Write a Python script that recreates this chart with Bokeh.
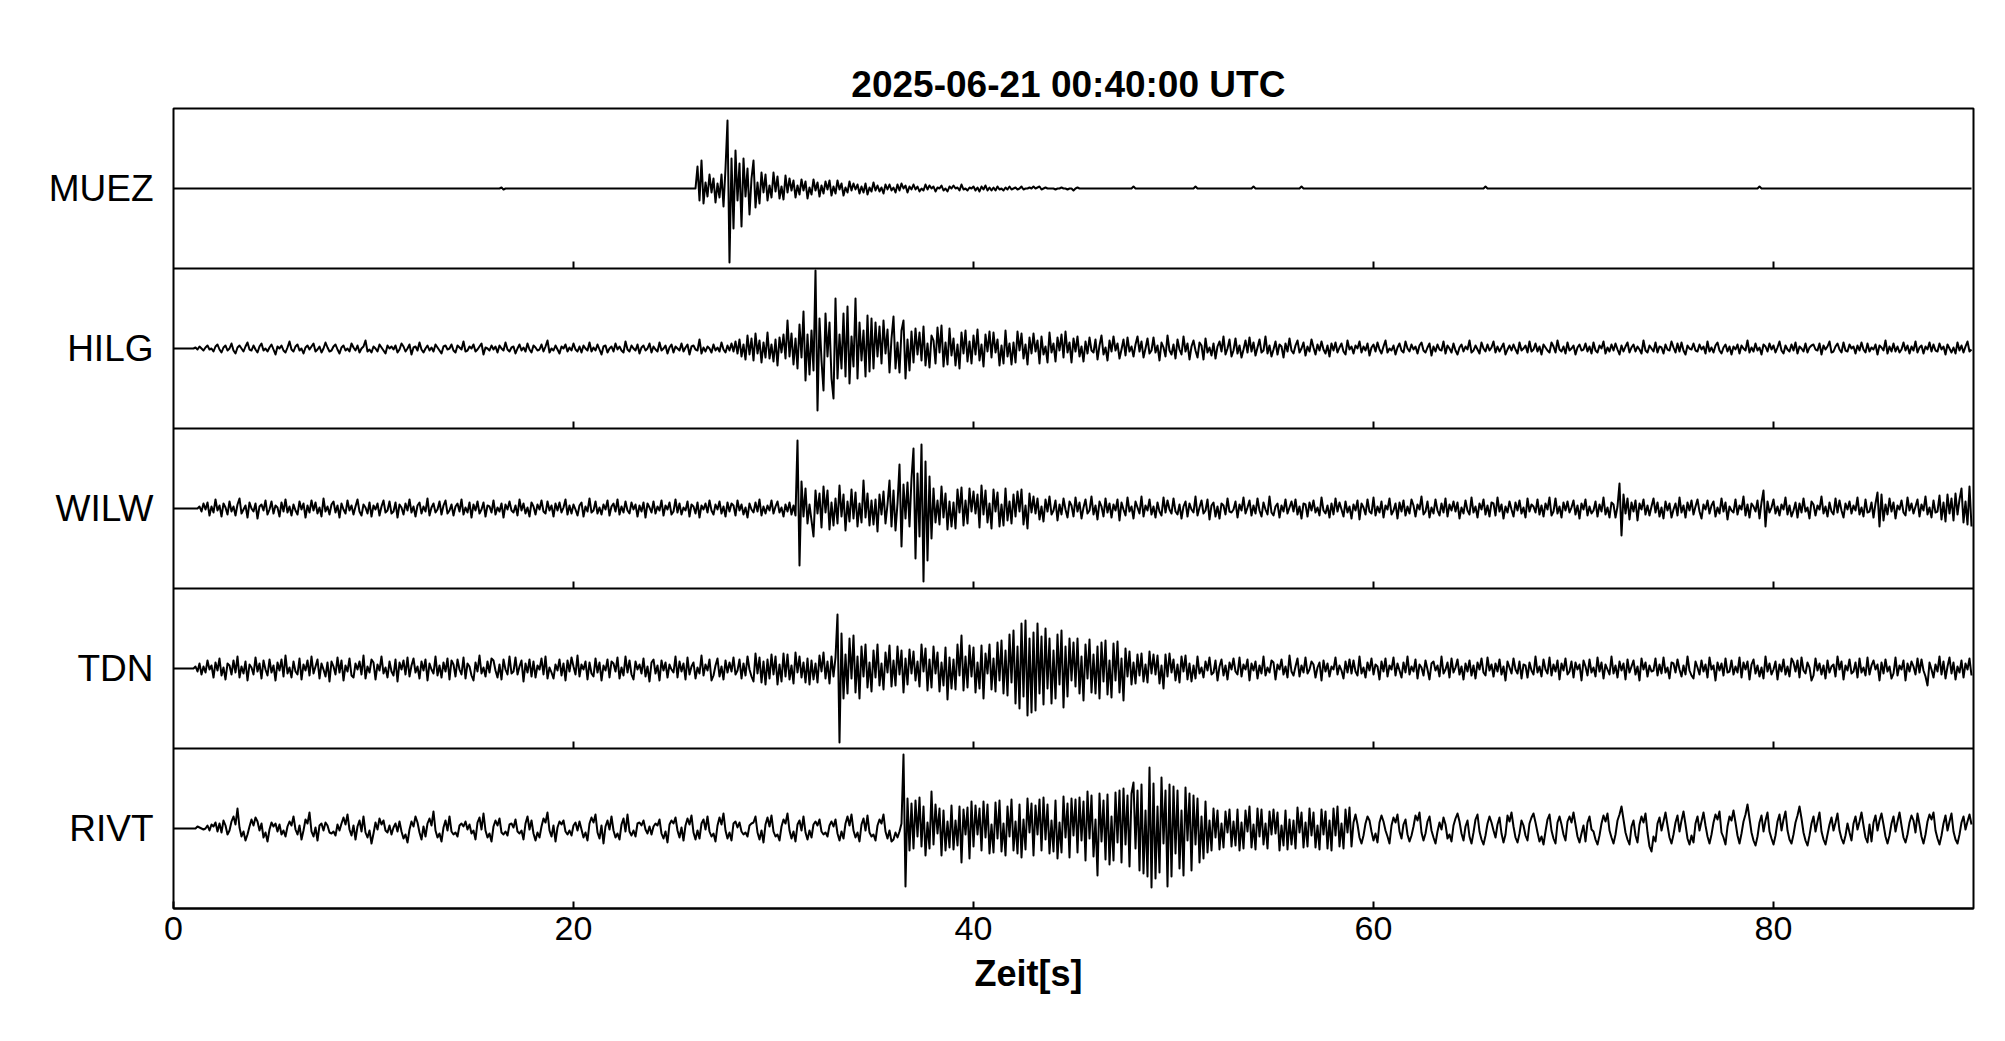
import numpy as np
from bokeh.plotting import figure
from bokeh.models import Range1d, FixedTicker, Span, Title
from bokeh.embed import file_html
from bokeh.resources import INLINE

TITLE = "2025-06-21  00:40:00 UTC"
X_LABEL = "Zeit[s]"
STATIONS = ["MUEZ", "HILG", "WILW", "TDN", "RIVT"]
X_TICKS = [0, 20, 40, 60, 80]
X_MAX = 90
SAMPLE_RATE = 10          # samples per second
COUNTS_PER_PANEL = 160    # amplitude counts spanning one trace panel

Z10 = [0, 0, 0, 0, 0, 0, 0, 0, 0, 0]

MUEZ = (
    Z10 + Z10 + Z10 + Z10 + Z10 + Z10 + Z10 + Z10 + Z10 + Z10 + Z10 + Z10 + Z10 + Z10 + Z10 + Z10 +
    [0, 0, 0, 0, 1, -1, 0, 0, 0, 0] +
    Z10 + Z10 + Z10 + Z10 + Z10 + Z10 + Z10 + Z10 + Z10 +
    [0, 0, 22, -12, 28, -15, 6, -8, 14, -4,
     10, -14, 5, -9, 14, -18, 20, 68, -74, 30,
     -40, 38, -12, 25, -38, 30, -8, 20, -26, 10,
     28, -19, 6, -15, 16, -4, 14, -12, 3, -9,
     16, -3, 12, -10, 2, -11, 13, -4, 10, -2,
     8, -9, 3, -6, 9, -2, 7, -10, 1, -6,
     9, -2, 6, -8, 3, -5, 7, -1, 8, -7,
     2, -5, 8, -1, 5, -7, 1, -4, 7, -2,
     5, -1, 4, -5, 2, -4, 5, -6, 1, -3,
     6, -2, 3, -3, 1, -5, 4, -1, 4, -2,
     1, -4, 4, -2, 5, 0, 3, -4, 2, -1,
     4, -1, 2, -3, 0, -2, 4, -1, 3, 0,
     2, -3, 1, 0, 3, -2, 0, -3, 2, 0,
     3, 0, 1, -2, 4, -1, 0, -2, 1, 0,
     2, -2, 1, -3, 2, -1, 3, -2, 1, -2,
     1, -2, 2, -1, 0, -2, 1, -1, 2, -1,
     0, 1, -1, 0, 2, -1, 0, 0, 1, 0,
     2, 0, 1, 2, -1, 0, 1, 0, 0, 0,
     0, -1, 0, 0, 1, 0, 0, -1, 0, 0,
     -2, 0, 1, 0, 0, 0, 0, 0, 0, 0] +
    Z10 + Z10 +
    [2, 0, 0, 0, 0, 0, 0, 0, 0, 0] +
    Z10 + Z10 +
    [0, 2, 0, 0, 0, 0, 0, 0, 0, 0] +
    Z10 + Z10 +
    [2, 0, 0, 0, 0, 0, 0, 0, 0, 0] +
    Z10 +
    [0, 0, 0, 0, 2, 0, 0, 0, 0, 0] +
    Z10 + Z10 + Z10 + Z10 + Z10 + Z10 + Z10 + Z10 +
    [0, 0, 0, 0, 0, 0, 2, 0, 0, 0] +
    Z10 + Z10 + Z10 + Z10 + Z10 + Z10 + Z10 + Z10 + Z10 + Z10 + Z10 + Z10 + Z10 +
    [0, 0, 0, 2, 0, 0, 0, 0, 0, 0] +
    Z10 + Z10 + Z10 + Z10 + Z10 + Z10 + Z10 + Z10 + Z10 + Z10
)

HILG = [
    0, 0, 0, 0, 0, 0, 0, 0, 0, 0,
    0, 1, -1, 2, 0, -2, 1, 3, -1, 0,
    -3, 2, 4, -1, -4, 1, 3, -2, 0, 5,
    -2, -5, 1, 3, 0, -3, 2, 6, -1, -2,
    3, -1, -4, 2, 5, -2, 0, -3, 1, 4,
    -1, -6, 2, 0, 3, -2, -4, 1, 7, -1,
    -3, 2, 4, -2, 0, -5, 1, 3, -1, 2,
    5, -3, -1, 2, -4, 0, 6, 1, -3, -2,
    2, 4, -1, -5, 1, 3, -2, 0, -3, 5,
    1, -2, 3, -4, 0, 2, 8, -3, -1, -4,
    2, 0, -3, 4, 1, -2, -5, 3, 0, 2,
    -1, 3, -4, -1, 5, 2, -3, 0, 4, -6,
    1, 2, -2, 6, -1, -4, 0, 3, -2, 1,
    -3, 4, 1, -2, -5, 2, 3, -1, 0, 4,
    -2, -4, 3, 1, -1, 7, -3, -2, 2, 0,
    4, -3, -1, 2, 5, -6, 1, 0, -2, 3,
    -1, 2, -4, 3, 0, -2, 6, -1, -3, 1,
    2, -5, 0, 4, -2, 1, -3, 5, -1, -4,
    3, 1, -2, -1, 4, -3, 2, 8, -4, 0,
    -2, 3, -1, -5, 2, 0, 4, -3, 1, -2,
    5, -1, -3, 2, -4, 3, 0, -2, 6, -3,
    1, -2, 4, -1, -6, 2, 3, -4, 0, 2,
    -3, 5, -1, 2, -2, -4, 7, -1, -3, 3,
    0, -2, 4, -5, 1, 3, -2, 0, 5, -4,
    2, -1, -3, 6, -2, 0, 3, -5, 1, 4,
    -4, 2, 0, -2, 5, -3, 1, 4, -6, 2,
    3, -1, -2, 9, -5, 1, -3, 2, 0, -4,
    4, -2, 1, -3, 6, -1, -4, 3, -2, 5,
    -3, 7, -5, 9, -8, 4, -11, 13, -6, 10,
    -12, 15, -5, 8, -14, 6, -9, 16, -10, 4,
    -13, 9, -17, 11, -4, 14, -10, 28, -8, 15,
    -16, 10, -20, 24, -9, 37, -32, 14, -26, 18,
    -22, 78, -62, 30, -12, -42, 35, -8, 26, -30,
    -50, 50, -30, 14, -20, 35, -28, 42, -35, 12,
    -18, 50, -30, 26, -12, 18, -28, 33, -23, 30,
    -20, 26, -8, 22, -15, 28, -5, 19, -24, 10,
    32, -20, 6, -24, 18, 28, -30, 9, -22, 17,
    -14, 20, -6, 16, -12, 22, -17, 5, -19, 13,
    8, -15, 21, -4, 23, -18, 6, -16, 20, -7,
    10, -17, 4, -20, 16, -5, 18, -13, 7, -15,
    13, -6, 19, -12, 4, -18, 14, -3, 17, -9,
    16, -4, 9, -17, 3, -15, 18, -8, 5, -16,
    6, -14, 17, -2, 15, -10, 4, -16, 11, -5,
    15, -3, 8, -15, 12, -6, 2, -14, 16, -4,
    5, -13, 11, -2, 14, -9, 17, -4, 6, -14,
    10, -3, 12, -8, 2, -13, 7, -5, 11, -2,
    -4, 9, -11, 3, 13, -6, 1, -12, 8, -3,
    12, -2, 5, -10, -1, 9, -7, 11, -3, 2,
    -8, 4, 12, -3, 7, -9, 0, 10, -5, -2,
    11, -4, 3, -12, 6, 1, -8, 13, -2, -6,
    4, -10, 9, -1, -6, 12, -3, 5, -11, 2,
    8, -2, -9, 6, 3, -11, 10, -4, 1, -7,
    5, -10, 2, 7, -3, 12, -6, 0, 9, -8,
    -2, 10, -5, 3, -9, -1, 8, -4, 11, -3,
    6, -7, 1, 9, -4, -2, 12, -5, 3, -8,
    -1, 7, -6, 4, 2, -9, 5, -3, 10, -2,
    -5, 3, 8, -4, 0, 6, -7, 2, -3, 9,
    1, -6, 4, -2, 7, -1, -5, 3, -8, 5,
    -2, 6, -4, 1, 5, -3, -6, 8, -1, 2,
    -5, 3, 0, 7, -4, 2, -2, 5, -7, 1,
    4, -3, 6, -1, -5, 2, 8, -4, 0, -2,
    3, -6, 1, 5, -2, -4, 7, 0, -3, 4,
    -1, 2, -5, 3, 6, -2, -4, 1, 5, -7,
    2, -3, 4, -1, -2, 7, -5, 3, 0, -4,
    5, -2, -6, 1, 4, -3, 2, -1, 8, -4,
    -2, 3, -1, -5, 6, 0, -3, 4, -2, 1,
    7, -4, 2, -3, 1, 5, -6, -1, 3, -2,
    4, -1, -5, 6, -2, 0, 3, -4, 7, -3,
    -1, 5, -3, 2, -6, 4, 1, -2, -4, 6,
    2, -4, 8, -1, -3, 2, -5, 6, -2, 0,
    3, -6, 1, 4, -2, -1, 5, -3, 2, -5,
    6, -2, -4, 3, 0, 7, -5, 1, -3, 4,
    -2, 5, -1, -6, 3, -3, 2, 6, -4, 1,
    4, -3, 2, -1, -5, 8, -2, -4, 3, 0,
    -3, 6, -4, 2, 1, -5, 4, -1, -2, 7,
    1, -4, 5, -3, 6, -2, -6, 3, 0, -1,
    5, -2, -3, 4, -1, 2, -5, 7, -3, 1,
    -4, 3, 6, -2, -5, 1, 4, -3, 2, -6,
    2, -1, 4, -5, 3, 0, -2, 8, -4, 1,
    -3, 5, -2, 1, -6, 4, 2, -3, 5, -1,
    3, -4, 1, 7, -2, -5, 3, -1, -3, 4,
    -2, 6, -5, 2, 0, -3, 5, -4, 1, 3,
    4, -1, -2, 5, -6, 3, -1, 2, 7, -4,
    -3, 2, 5, -1, -4, 6, -2, -3, 4, 0,
    2, -5, 3, -2, 6, -1, -4, 5, -3, 1,
    -1, 4, -6, 3, 1, -2, 8, -5, 2, -3,
    5, -3, 2, -4, -1, 6, -2, 3, -5, 2,
    -2, 7, -4, 1, 3, -5, 2, -1, 6, -3,
    4, -2, -3, 5, -1, 2, -6, 4, 0, -4,
    1, -5, 6, -2, 3, -4, 2, 7, -3, -1,
]

WILW = [
    0, 0, 0, 0, 0, 0, 0, 0, 0, 0,
    0, 0, 0, 2, -3, 5, -1, 6, -7, 2,
    -4, 9, -2, 3, -8, 5, 1, -6, 7, -3,
    2, -7, 4, 10, -5, -1, 3, -9, 6, 0,
    -3, 5, -10, 2, 4, -2, 8, -6, -1, 7,
    -5, 3, 1, -8, 6, -3, 9, -4, 2, -7,
    4, -2, -6, 7, -1, 5, -9, 3, -4, 8,
    -2, 6, -5, 1, -8, 10, -3, 2, -6, 4,
    7, -4, 3, -9, 5, -1, -5, 8, -2, 3,
    -6, 2, 9, -3, -7, 4, 1, -5, 6, -8,
    3, -1, 5, -7, 2, 8, -4, -2, 7, -5,
    -3, 6, -9, 4, 1, -6, 5, -2, 9, -4,
    2, -8, 3, 6, -5, 2, -3, 10, -7, 1,
    5, -4, -1, 7, -6, 3, 8, -5, -2, 4,
    -7, 2, 5, -3, 9, -6, 1, -4, 6, -9,
    4, -2, 7, -5, -1, 6, -8, 3, 2, -4,
    8, -6, 1, -3, 5, -9, 4, -1, 7, -2,
    -4, 3, -7, 9, -2, 5, -5, 1, -8, 6,
    2, -6, 4, -1, 8, -3, -5, 7, -2, 3,
    -8, 5, -2, 6, -4, 1, 9, -6, 3, -5,
    4, -1, -7, 3, 6, -8, 2, -3, 10, -4,
    -2, 7, -5, 1, -6, 4, -1, 8, -7, 2,
    5, -3, 9, -6, 2, -4, 7, -2, -5, 6,
    -1, 4, -8, 3, -3, 6, -9, 5, 1, -4,
    7, -5, 2, -2, 8, -7, 3, -1, 6, -6,
    -3, 9, -4, 5, -6, 1, -2, 7, -8, 4,
    2, -5, 6, -9, 3, -1, 5, -4, 8, -2,
    -6, 4, -1, 7, -5, 2, -8, 6, -3, 5,
    3, -7, 8, -2, 4, -6, 1, -9, 5, -1,
    -4, 6, -3, 9, -7, 2, -5, 3, -2, 8,
    -5, 2, 7, -4, 1, -8, 4, -3, 6, -6,
    3, -7, 68, -57, 27, -8, 20, -15, 4, -12,
    -28, 18, -5, 15, -19, 22, -4, 18, -21, 6,
    -17, 10, -15, 23, -8, 14, -22, 7, -13, 19,
    -10, 16, -18, 5, -14, 28, -9, 15, -17, 8,
    -16, 9, -23, 14, -6, 17, -15, 4, 28, -18,
    18, -22, 5, 44, -38, 24, -10, 26, -18, 30,
    60, -50, 35, -28, 64, -73, 47, -52, 32, -30,
    20, -14, 8, -16, 22, -9, 15, -21, 7, -18,
    6, -20, 19, -4, 21, -17, 8, -15, 20, -3,
    17, -5, 14, -19, 23, -6, 18, -14, 5, -20,
    19, -3, 16, -18, 4, -17, 20, -12, 7, -15,
    14, -8, 17, -3, 19, -16, 3, -20, 15, -4,
    12, -5, 10, -11, 2, -13, 9, -3, 12, -6,
    -2, 8, -12, 4, -6, 10, -1, -9, 7, 3,
    -8, 11, -3, 6, -10, 1, 9, -5, -2, 12,
    -6, 3, -11, 7, 2, -8, 10, -4, 5, -9,
    4, -2, 9, -12, 6, -1, -7, 11, -3, 2,
    -10, 7, 1, -5, 12, -8, 3, -2, 9, -6,
    2, -9, 6, -3, -7, 11, -4, 8, -1, -5,
    10, -3, -6, 4, -10, 2, 7, -8, 5, -1,
    -4, 12, -7, 1, 8, -5, -2, 9, -11, 3,
    6, -8, 2, -10, 5, 3, -6, 10, -3, -4,
    -1, 7, -9, 4, -2, 11, -5, 1, 8, -7,
    3, -5, 10, -2, -8, 6, -1, -6, 12, -4,
    -7, 2, 5, -9, 3, -3, 9, -5, 1, 7,
    -3, 9, -6, 2, -10, 5, 4, -8, 6, -2,
    8, -4, 1, -7, 11, -2, -5, 3, -9, 5,
    -6, 10, -3, 6, -1, -8, 7, -4, 2, -10,
    4, -2, 8, -11, 5, 1, -6, 9, -3, -5,
    11, -7, 2, -4, 7, -9, 3, -1, 10, -6,
    -2, 5, -10, 6, -3, 8, -7, 2, -5, 9,
    3, -8, 4, -1, 12, -6, -3, 7, -9, 1,
    -5, 9, -2, -7, 5, -4, 10, -8, 4, -2,
    7, -3, 6, -10, 1, -5, 8, -2, -6, 11,
    -4, 2, -9, 5, -1, 9, -6, 3, -8, 6,
    5, -7, 11, -3, 4, -10, 2, -4, 7, -1,
    -8, 6, -2, 8, -5, 1, -9, 10, -3, 4,
    2, -4, 9, -6, 3, -8, 5, -1, 11, -7,
    -3, 10, -5, 2, -9, 6, -2, 7, -4, 1,
    8, -6, 3, -10, 5, -1, 9, -7, 2, -5,
    -2, 7, -8, 4, -3, 11, -6, 1, -9, 6,
    4, -9, 2, 25, -27, 14, -5, 10, -11, 6,
    -3, 8, -12, 5, -1, 9, -6, 3, -7, 2,
    10, -4, 6, -8, 1, -10, 7, -2, 5, -9,
    -1, 5, -7, 11, -4, 3, -9, 6, -2, 8,
    -6, 2, 9, -3, -10, 4, -1, 8, -5, 3,
    7, -8, 1, -5, 10, -3, 6, -11, 2, -2,
    -4, 9, -6, 3, -1, 12, -7, 4, -9, 5,
    2, -3, 8, -10, 6, 18, -18, 7, -4, 1,
    9, -5, 2, -7, 4, -1, 11, -6, 3, -8,
    -2, 6, -9, 5, -4, 10, -3, 1, -10, 7,
    4, -7, 3, -1, 12, -5, 2, -8, 6, -3,
    -6, 10, -4, 8, -2, -9, 5, -1, 7, -5,
    3, -2, 11, -6, 1, -8, 9, -4, -3, 6,
    -9, 5, 16, -18, 14, -12, 4, -6, 10, -3,
    6, -10, 3, -1, 8, -4, -7, 11, -2, 5,
    -5, 2, 9, -8, 4, -2, 12, -6, 1, -9,
    8, -4, -3, 13, -11, 6, -13, 14, -5, 10,
    -12, 15, -6, 9, 20, -14, 7, -16, 22, -18,
]

TDN = [
    0, 0, 0, 0, 0, 0, 0, 0, 0, 0,
    0, 2, -3, 5, -6, 2, -4, 8, -1, 3,
    -9, 6, -2, 10, -7, 1, -11, 5, 3, -6,
    8, -4, 12, -9, 2, -5, 7, -12, 4, 1,
    -6, 11, -3, 5, -10, 8, -1, -7, 9, -4,
    3, -12, 6, -2, 9, -8, 13, -5, 1, -9,
    7, -3, -6, 10, -11, 4, -2, 8, -7, 12,
    -5, 2, 9, -10, 5, -1, -8, 6, -13, 7,
    2, -6, 11, -4, 8, -12, 3, -3, 10, -7,
    -9, 5, -1, 7, -6, 13, -10, 2, -4, 9,
    6, -11, 4, -2, 12, -5, 1, -9, 7, -3,
    -7, 9, -13, 6, -1, 8, -6, 11, -8, 3,
    10, -4, 2, -10, 7, -2, 9, -12, 5, -1,
    -5, 12, -7, 3, -9, 6, -3, 10, -11, 8,
    4, -8, 9, -1, -6, 11, -10, 5, 2, -7,
    -12, 6, -3, 13, -5, 1, -8, 7, -4, 10,
    8, -2, -9, 4, -11, 9, -1, -6, 12, -5,
    -3, 11, -6, 2, 8, -13, 5, -4, 9, -8,
    7, -9, 3, -1, 10, -6, 12, -10, 1, -4,
    -10, 4, -2, 9, -7, 5, -12, 8, -3, 11,
    2, -6, 13, -8, 4, -1, 7, -11, 6, -5,
    -8, 10, -4, 6, -12, 3, -2, 9, -9, 7,
    5, -3, 11, -10, 1, -7, 12, -4, 8, -6,
    -11, 7, -1, 4, -5, 10, -8, 2, -13, 6,
    9, -5, 3, -12, 8, -2, 6, -9, 4, -1,
    -4, 12, -9, 7, -3, 5, -11, 11, -6, 2,
    6, -10, 1, -5, 13, -7, 4, -2, 9, -12,
    -7, 3, 10, -8, 2, -11, 8, -4, 6, -3,
    11, -6, -2, 9, -10, 5, -7, 12, -1, -8,
    -13, 15, -5, 11, -14, 7, -16, 9, -10, 14,
    -6, 12, -16, 4, -13, 15, -8, 14, -11, 3,
    -15, 16, -4, 12, -9, 6, -14, 10, -16, 8,
    -11, 5, -14, 13, -3, 16, -10, 7, -15, 12,
    -8, 11, 54, -74, 35, -30, 14, -25, 30, -10,
    33, -24, 12, -30, 22, -8, 24, -19, 6, -23,
    18, -9, 24, -17, 5, -21, 16, -4, 23, -18,
    8, -17, 22, -6, 18, -24, 10, -16, 19, -5,
    17, -12, 7, -18, 24, -3, 20, -22, 9, -19,
    22, -5, 16, -23, 6, -17, 21, -31, 11, -20,
    9, -21, 24, -7, 33, -22, 12, -19, 23, -8,
    21, -24, 6, -20, 23, -30, 15, -5, 24, -21,
    10, -23, 26, -12, 28, -25, 18, -27, 34, -14,
    38, -35, 22, -40, 45, -28, 48, -47, 30, -44,
    36, -42, 45, -25, 32, -36, 40, -20, 30, -35,
    18, -30, 34, -16, 38, -39, 22, -28, 30, -12,
    26, -18, 30, -25, 12, -32, 24, -10, 29, -24,
    14, -25, 22, -30, 26, -13, 28, -26, 8, -29,
    25, -12, 27, -24, 10, -32, 20, -8, 17, -16,
    6, -15, 14, -7, 15, -13, 4, -14, 17, -5,
    14, -6, 13, -15, 3, -20, 14, -8, 15, -4,
    9, -12, 4, -14, 12, -3, 13, -11, 5, -13,
    3, -10, 12, -5, 1, -9, 7, -2, 11, -6,
    -4, 8, -12, 2, 9, -7, 3, -11, 6, -1,
    10, -3, -6, 11, -8, 4, -1, 9, -12, 5,
    -2, 7, -10, 3, -5, 12, -7, 1, -4, 8,
    6, -11, 4, -1, 9, -6, 2, -9, 13, -3,
    -7, 2, 10, -8, 3, -4, 11, -5, -1, 7,
    4, -9, 1, 6, -12, 8, -3, 5, -8, 2,
    -1, 11, -6, 3, -2, -10, 7, -4, 9, -5,
    8, -3, -7, 12, -5, 1, -9, 6, -2, 10,
    -6, 4, 2, -11, 7, -3, 10, -8, 3, -1,
    11, -7, 5, -2, -9, 6, -4, 12, -6, 2,
    -3, 9, -10, 4, 1, -7, 8, -1, -11, 5,
    7, -2, 3, -8, 12, -5, -1, 6, -9, 10,
    -4, 1, 9, -6, 2, -11, 5, -3, 8, -7,
    3, -10, 6, -1, 10, -4, -7, 11, -2, 4,
    -8, 5, -3, 9, -6, 2, -12, 7, 1, -5,
    10, -1, -5, 7, -10, 4, 3, -9, 6, -2,
    -6, 12, -4, 2, -8, 9, -1, -5, 11, -7,
    4, -3, 8, -11, 5, -2, 10, -6, -3, 7,
    -9, 6, -1, 4, -12, 8, 2, -7, 9, -4,
    1, -8, 11, -3, 6, -10, 4, -1, -6, 12,
    -5, 3, -9, 7, -2, 5, -11, 9, -4, 2,
    8, -6, 2, -12, 10, -1, 6, -8, 3, -3,
    -2, 10, -7, 4, -5, 11, -4, 1, -10, 6,
    5, -4, 9, -1, -8, 3, -6, 12, -2, -7,
    -10, 7, 1, -6, 8, -3, 4, -9, 11, -1,
    3, -12, 6, -2, 5, -7, 10, -4, -3, 8,
    -6, 2, -4, 11, -9, 6, -1, 7, -11, 4,
    9, -5, 3, -8, 1, -10, 12, -3, 5, -6,
    -1, 7, -11, 4, -3, 9, -6, 2, -8, 10,
    6, -3, 8, -9, 11, -2, -5, 6, 1, -12,
    -7, 10, -2, 5, -6, 3, -10, 8, -4, 2,
    4, -8, 12, -1, 7, -11, 3, -2, 9, -5,
    -3, 6, -9, 10, -4, 1, -7, 11, -6, 3,
    8, -1, 4, -12, 6, -5, 9, -3, 2, -10,
    -5, 11, -7, 3, -1, 8, -12, 5, -3, 7,
    2, -6, 10, -4, 9, -2, -8, -17, 6, -1,
    -9, 4, -3, 12, -6, 7, -10, 2, 11, -5,
    6, -11, 2, -4, 8, -9, 5, -1, 10, -7,
]

RIVT = [
    0, 0, 0, 0, 0, 0, 0, 0, 0, 0,
    0, 0, 2, 1, 0, -1, 0, 3, -2, 4,
    2, 6, -3, 5, -4, 8, 3, -6, -2, 7,
    12, 4, 20, 1, -8, -3, -12, -6, 2, 9,
    3, 11, 7, -2, 5, -9, -4, -13, -1, 6,
    2, 5, -3, 4, -6, -2, -8, 2, 7, 3,
    12, -1, -6, 3, -11, -2, 9, 5, 16, -3,
    -8, 1, -12, 3, 5, -2, 6, 3, -4, -5,
    -3, -7, 4, -2, 5, 11, 4, 14, -1, -7,
    3, -11, 2, 8, -3, 12, -4, -9, -2, -15,
    -5, 6, -1, 10, 4, 8, -2, -4, 3, -6,
    1, 5, -3, 7, -3, -10, -6, -14, -1, 7,
    2, 12, 6, -4, -11, 2, -8, 5, 10, 3,
    17, -2, -9, -5, -13, 1, 8, -2, 12, -3,
    -6, -4, -8, 3, 5, 2, 7, -1, 4, -5,
    -2, -11, 6, 11, -1, 15, -2, -9, -5, -13,
    2, 8, 3, 10, -4, -6, -3, -7, 4, 5,
    1, 9, -3, -5, -2, -11, 5, 12, -1, 8,
    -5, -12, -4, -9, 2, 10, 6, 16, -2, -8,
    3, -13, 1, 7, 4, 8, -3, -6, -2, -7,
    3, 6, -2, 7, -1, -9, -4, -12, 5, 11,
    6, 14, -4, -10, 3, -15, 2, 8, -1, 12,
    -2, -9, -5, -11, 4, 10, -3, 14, -3, -7,
    -2, -8, 5, 6, 3, 8, -1, -5, 2, -6,
    2, 5, 3, 9, -5, -10, -3, -14, 4, 8,
    5, 11, -2, -9, 1, -12, 3, 10, 4, 13,
    -4, -11, -2, -10, 5, 9, -1, 12, -3, -8,
    -5, -13, 3, 11, 4, 15, -2, -10, -4, -12,
    5, 7, 1, 6, -3, -6, -4, -8, 3, 5,
    6, 12, -4, -11, -2, -14, 4, 11, 2, 13,
    -3, -8, -6, -12, 2, 9, 5, 15, -2, -10,
    -3, -13, 4, 8, -2, 12, -4, -11, -2, -9,
    4, 7, 3, 9, -3, -6, -4, -8, 3, 7,
    2, 9, -5, -12, -3, -10, 5, 12, 3, 14,
    -2, -9, -4, -13, 4, 10, -2, 13, -4, -8,
    -6, -12, 3, 9, 5, 14, -3, -10, -2, -13,
    -11, -4, -9, -3, 5, 74, -58, 30, -22, 25,
    -20, 28, -8, 31, -18, 22, -27, 6, -20, 37,
    -16, 24, -5, 20, -27, 18, -22, 7, -19, 23,
    -21, 8, -17, 22, -34, 19, -6, 21, -30, 27,
    -18, 23, -6, 20, -22, 27, -9, 24, -25, 4,
    -24, 26, -10, 28, -23, 5, -27, 22, -8, 29,
    -22, 7, -25, 24, -29, 9, -21, 30, -4, 25,
    -27, 23, -6, 29, -22, 31, -11, 24, -25, 8,
    -23, 28, -30, 6, -24, 32, -9, 25, -29, 30,
    -7, 29, -24, 31, -12, 27, -32, 37, -10, 33,
    -28, 9, -47, 35, -13, 28, -31, 34, -36, 12,
    -32, 36, -14, 38, -34, 40, -16, 33, -38, 35,
    46, -20, 38, -42, 44, -45, 18, -48, 61, -59,
    45, -50, 22, -44, 51, -15, 38, -58, 44, -48,
    42, -25, 38, -40, 18, -47, 41, -12, 35, -42,
    33, -16, 30, -34, 12, -30, 27, -24, 8, -22,
    20, -9, 18, -21, 5, -19, 17, -4, 19, -18,
    7, -17, 19, -22, 6, -20, 18, -3, 22, -19,
    4, -21, 20, -8, 19, -16, 5, -20, 17, -6,
    19, -5, 16, -22, 3, -17, 18, -21, 9, -16,
    8, -20, 21, -4, 16, -19, 6, -18, 20, -7,
    16, -19, 3, -21, 19, -6, 17, -20, 8, -22,
    20, -7, 22, -18, 5, -20, 19, -4, 21, -18,
    6, 14, 4, -9, -15, -7, 5, 12, 8, -3,
    -12, -5, -14, 6, 13, 7, -2, -8, -15, 3,
    11, 6, 14, -3, -10, 4, 9, -6, -13, -7,
    2, 13, 8, 16, -4, -12, -5, 7, 12, -2,
    -9, -15, -3, 6, -1, 11, 4, -10, -6, -13,
    3, 10, 15, 7, -5, -12, 2, 8, -8, -15,
    -4, 9, 14, -3, -11, -16, -7, 5, 12, 6,
    -2, -9, 4, 11, -5, -14, -6, 13, 7, 16,
    2, -9, -14, -5, 8, 3, -7, -12, 5, 11,
    15, 6, -4, -13, -8, -16, -3, 9, 14, -2,
    -10, -15, 6, 12, 4, -6, -12, 7, 12, 6,
    16, 4, -8, -14, -5, 3, -13, 6, 12, -1,
    -3, -11, -16, -7, 5, 13, 7, 15, -2, -9,
    -15, -6, 8, 14, 22, 9, -4, -11, -16, 2,
    8, -7, -14, 4, 12, 6, 15, -4, -18, -23,
    -8, -13, 5, 11, -2, 7, 16, 3, -9, -15,
    -6, 6, 13, -3, 8, 17, 4, -10, -16, -7,
    -14, 5, 12, -2, 7, 16, 3, -8, -15, -6,
    6, 14, 9, 17, -4, -9, -16, 2, 12, 8,
    18, 6, -7, -15, -5, 7, 14, 24, 10, -4,
    -12, -17, -8, 6, 13, -3, 8, 16, -3, -10,
    -16, -7, 7, 14, -2, 9, 17, -2, -11, -15,
    -6, 6, 13, 22, 10, -4, -12, -17, -7, 5,
    12, -3, 7, 16, -3, -11, -16, -6, 4, 11,
    -2, 6, 15, -2, -10, -15, -7, 5, -4, -12,
    5, 12, -1, 7, 16, 3, -9, -14, 4, -13,
    6, 13, -2, 8, 15, 4, -8, -15, -7, 5,
    12, -3, 7, 16, 3, -9, -14, -6, 6, 13,
    8, -4, 15, 4, -8, -15, -6, 7, 14, 9,
    16, -2, -10, -16, -7, 5, 13, -2, 7, 15,
    -3, -11, -15, -6, 6, 12, -1, 7, 14, 4,
]

TRACES = [MUEZ, HILG, WILW, TDN, RIVT]

# ---------------------------------------------------------------- layout
FRAME_W, FRAME_H = 1800, 800
BORDER_L, BORDER_R, BORDER_T, BORDER_B = 173, 22, 108, 124
n = len(STATIONS)
PANEL_PX = FRAME_H / n
offsets = [n - 1 - i for i in range(n)]          # MUEZ on top
FONT = "Liberation Sans"

p = figure(
    width=BORDER_L + FRAME_W + BORDER_R,
    height=BORDER_T + FRAME_H + BORDER_B,
    x_range=Range1d(0, X_MAX), y_range=Range1d(-0.5, n - 0.5),
    output_backend="svg", toolbar_location=None, tools="",
    min_border_left=BORDER_L, min_border_right=BORDER_R,
    min_border_top=BORDER_T, min_border_bottom=BORDER_B,
    background_fill_color="white", border_fill_color="white",
)
p.outline_line_color = "black"
p.outline_line_width = 2
p.xgrid.visible = False
p.ygrid.visible = False

p.title.text = TITLE
p.title.align = "center"
p.title.text_font = FONT
p.title.text_font_size = "37px"
p.title.text_font_style = "bold"
p.title.text_color = "black"
p.title.standoff = 8

xa = p.xaxis[0]
xa.ticker = FixedTicker(ticks=X_TICKS, minor_ticks=[])
xa.major_tick_in = 7
xa.major_tick_out = 0
xa.minor_tick_in = 0
xa.minor_tick_out = 0
xa.major_tick_line_width = 2
xa.major_tick_line_color = "black"
xa.axis_line_width = 2
xa.axis_line_color = "black"
xa.major_label_text_font = FONT
xa.major_label_text_font_size = "34px"
xa.major_label_text_color = "black"
xa.major_label_standoff = 8

ya = p.yaxis[0]
ya.ticker = FixedTicker(ticks=offsets, minor_ticks=[])
ya.major_label_overrides = {o: s for o, s in zip(offsets, STATIONS)}
ya.major_tick_in = 0
ya.major_tick_out = 0
ya.minor_tick_in = 0
ya.minor_tick_out = 0
ya.axis_line_color = None
ya.major_label_text_font = FONT
ya.major_label_text_font_size = "37px"
ya.major_label_text_color = "black"
ya.major_label_standoff = 20

# x-axis caption (left-aligned, shifted to sit where the original puts it)
p.add_layout(Title(
    text=X_LABEL, align="left", offset=801, standoff=16,
    text_font=FONT, text_font_size="36px", text_font_style="bold", text_color="black",
), "below")

# panel dividers and the inward ticks sitting on them
dividers = [o + 0.5 for o in offsets[1:]]
for d in dividers:
    p.add_layout(Span(location=d, dimension="width", line_color="black", line_width=2))
tick_len = 7 / PANEL_PX
tx = [x for d in dividers for x in X_TICKS[1:]]
ty = [d for d in dividers for x in X_TICKS[1:]]
p.segment(x0=tx, y0=ty, x1=tx, y1=[y + tick_len for y in ty], line_color="black", line_width=2)

# traces
for vals, off in zip(TRACES, offsets):
    v = np.asarray(vals, dtype=float)
    t = np.arange(len(v)) / SAMPLE_RATE
    p.line(t, off + v / COUNTS_PER_PANEL, line_color="black", line_width=2, line_join="round")

open("out.html", "w").write(file_html(p, INLINE))
